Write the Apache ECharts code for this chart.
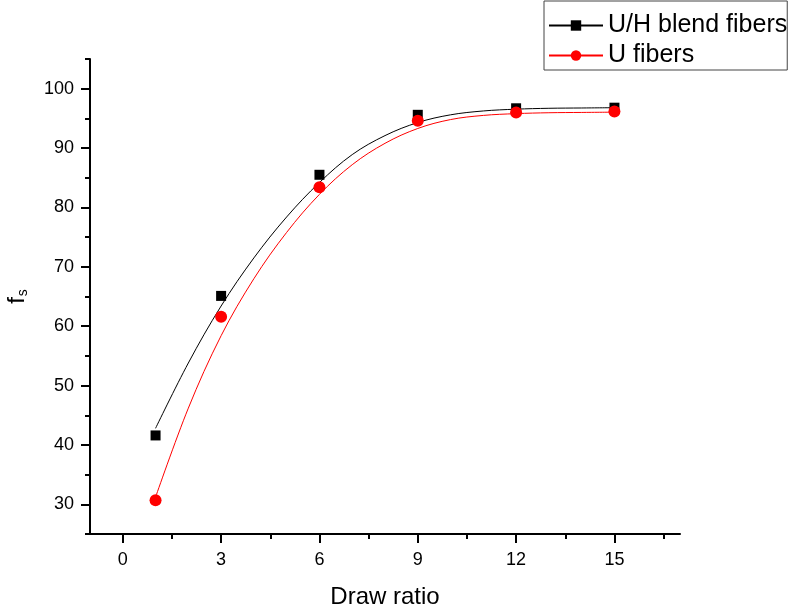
<!DOCTYPE html>
<html>
<head>
<meta charset="utf-8">
<title>fs vs draw ratio</title>
<script src="https://cdn.jsdelivr.net/npm/echarts@6/dist/echarts.min.js"></script>
<style>
	html, body { margin: 0; padding: 0; background: #fff; }
	#chart { width: 796px; height: 612px; }
</style>
</head>
<body>
<div id="chart"></div>
<script>
// measured points
var drawRatio = [1, 3, 6, 9, 12, 15];
var blendFs = [41.6, 65.1, 85.5, 95.6, 96.7, 96.8];
var uFs = [30.7, 61.6, 83.4, 94.6, 96.0, 96.15];

// fitted curves
var fitX = [1, 2, 3, 4, 5, 6, 7, 8, 9, 10, 11, 12, 13, 14, 15];
var blendFit = [42.8, 53.8, 63.4, 71.5, 78.4, 84.2, 88.9, 92.1, 94.3, 95.6, 96.25, 96.55, 96.7, 96.75, 96.8];
var uFit = [31.2, 46.2, 58.4, 68.0, 75.8, 82.2, 87.2, 90.8, 93.3, 94.8, 95.5, 95.8, 95.95, 96.0, 96.05];

// ticks
var xMajor = [0, 3, 6, 9, 12, 15];
var xMinor = [1.5, 4.5, 7.5, 10.5, 13.5, 16.5];
var yMajor = [30, 40, 50, 60, 70, 80, 90, 100];
var yMinor = [25, 35, 45, 55, 65, 75, 85, 95, 105];

var names = ['U/H blend fibers', 'U fibers'];
var font = 'Liberation Sans, Arial, sans-serif';

function pairs(xs, ys) {
	var out = [];
	for (var i = 0; i < xs.length; i++) {
		out.push([xs[i], ys[i]]);
	}
	return out;
}

var chart = echarts.init(document.getElementById('chart'));

var baseAxis = {
	axisLine: { onZero: false, lineStyle: { color: '#000', width: 2 } },
	splitLine: { show: false }
};

var option = {
	animation: false,
	backgroundColor: '#fff',
	grid: { left: 90, right: 116, top: 59, bottom: 78, outerBoundsMode: 'none' },
	legend: {
		orient: 'vertical',
		left: 544,
		top: 1,
		padding: [12, 0, 2, 4],
		itemGap: 5,
		itemWidth: 54,
		itemHeight: 13,
		backgroundColor: '#fff',
		borderColor: '#444',
		borderWidth: 1,
		textStyle: { fontFamily: font, fontSize: 25, color: '#000', lineHeight: 24 },
		data: names
	},
	xAxis: [
		Object.assign({}, baseAxis, {
			type: 'value',
			min: -1,
			max: 17,
			position: 'bottom',
			name: 'Draw ratio',
			nameLocation: 'middle',
			nameGap: 51,
			nameTextStyle: { fontFamily: font, fontSize: 24, color: '#000' },
			axisTick: { customValues: xMajor, length: 9, lineStyle: { color: '#000', width: 2 } },
			axisLabel: { customValues: xMajor, margin: 17, fontFamily: font, fontSize: 18, color: '#000' }
		}),
		{
			type: 'value',
			min: -1,
			max: 17,
			position: 'bottom',
			axisLine: { show: false, onZero: false },
			splitLine: { show: false },
			axisTick: { customValues: xMinor, length: 5, lineStyle: { color: '#000', width: 2 } },
			axisLabel: { show: false }
		}
	],
	yAxis: [
		Object.assign({}, baseAxis, {
			type: 'value',
			min: 25,
			max: 105,
			position: 'left',
			name: '{a|f}{b|s}',
			nameLocation: 'middle',
			nameRotate: 90,
			nameGap: 60,
			nameTextStyle: {
				fontFamily: font,
				color: '#000',
				rich: {
					a: { fontFamily: font, fontSize: 24, color: '#000' },
					b: { fontFamily: font, fontSize: 14, color: '#000', padding: [12, 0, 0, 1] }
				}
			},
			axisTick: { customValues: yMajor, length: 9, lineStyle: { color: '#000', width: 2 } },
			axisLabel: { customValues: yMajor, margin: 16, fontFamily: font, fontSize: 18, color: '#000' }
		}),
		{
			type: 'value',
			min: 25,
			max: 105,
			position: 'left',
			axisLine: { show: false, onZero: false },
			splitLine: { show: false },
			axisTick: { customValues: yMinor, length: 5, lineStyle: { color: '#000', width: 2 } },
			axisLabel: { show: false }
		}
	],
	series: [
		{
			name: names[0],
			type: 'line',
			data: pairs(fitX, blendFit),
			smooth: 0.35,
			symbol: 'rect',
			showSymbol: false,
			color: '#000',
			lineStyle: { color: '#000', width: 1 },
			z: 2
		},
		{
			name: names[1],
			type: 'line',
			data: pairs(fitX, uFit),
			smooth: 0.35,
			symbol: 'circle',
			showSymbol: false,
			color: '#ff0000',
			lineStyle: { color: '#ff0000', width: 1 },
			z: 2
		},
		{
			name: names[0],
			type: 'scatter',
			data: pairs(drawRatio, blendFs),
			symbol: 'rect',
			symbolSize: 10,
			itemStyle: { color: '#000', opacity: 1 },
			z: 3
		},
		{
			name: names[1],
			type: 'scatter',
			data: pairs(drawRatio, uFs),
			symbol: 'circle',
			symbolSize: 12,
			itemStyle: { color: '#ff0000', opacity: 1 },
			z: 4
		}
	]
};

chart.setOption(option);
</script>
</body>
</html>
